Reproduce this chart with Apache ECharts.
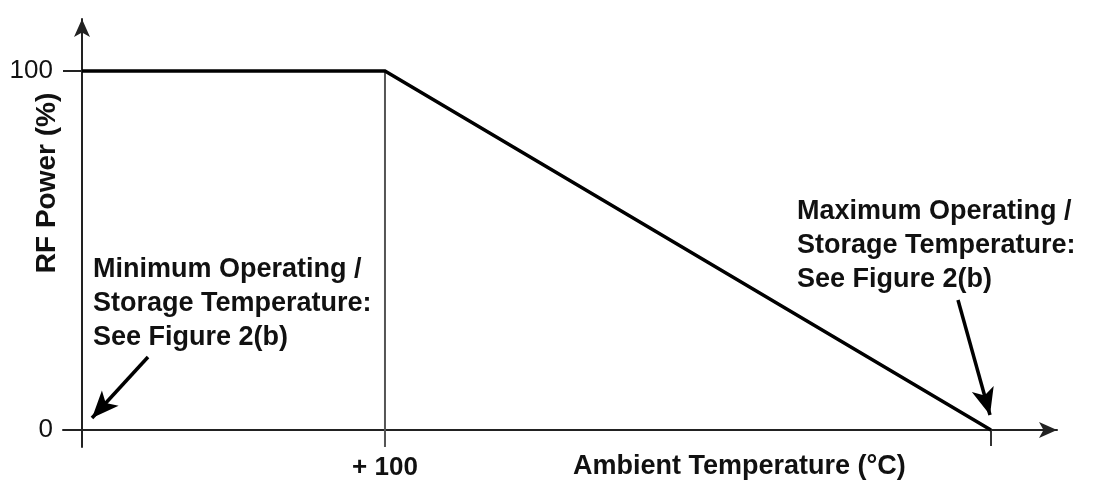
<!DOCTYPE html>
<html>
<head>
<meta charset="utf-8">
<script src="https://cdn.jsdelivr.net/npm/echarts@6/dist/echarts.min.js"></script>
<style>html,body{margin:0;padding:0;background:#fff}#c{width:1101px;height:486px}</style>
</head>
<body>
<div id="c"></div>
<script>
// Data (schematic derating curve)
const temperature = [0, 100, 300];
const rfPower = [100, 100, 0];
const refLineX = [100, 100];
const refLineY = [100, -4.74];
const xTickValues = [100, 300];
const xLabelValues = [100];
const yTickValues = [100];
const yLabelValues = [0, 100];
const xLabelText = {100: '+ 100'};
const xAxisTitle = 'Ambient Temperature (°C)';
const yAxisTitle = 'RF Power (%)';
const minNote = ['Minimum Operating /', 'Storage Temperature:', 'See Figure 2(b)'];
const maxNote = ['Maximum Operating /', 'Storage Temperature:', 'See Figure 2(b)'];

const FONT = "'Liberation Sans', Arial, sans-serif";
const chart = echarts.init(document.getElementById('c'), null, {renderer: 'canvas'});
const curve = temperature.map((t, i) => [t, rfPower[i]]);
const ref = refLineX.map((x, i) => [x, refLineY[i]]);

chart.setOption({
  animation: false,
  backgroundColor: '#fff',
  grid: {left: 63, right: 44, top: 19, bottom: 39, containLabel: false, outerBoundsMode: 'none'},
  xAxis: {
    type: 'value', min: -6.27, max: 321.8,
    splitLine: {show: false},
    axisLine: {onZero: true, symbol: ['none', 'arrow'], symbolSize: [12, 18],
      lineStyle: {color: '#222', width: 2}},
    axisTick: {show: true, customValues: xTickValues, length: 16, lineStyle: {color: '#333', width: 2}},
    axisLabel: {customValues: xLabelValues, margin: 8, fontFamily: FONT, fontSize: 26,
      fontWeight: 'bold', color: '#111', formatter: v => xLabelText[v] || String(v)}
  },
  yAxis: {
    type: 'value', min: -4.74, max: 114.5,
    splitLine: {show: false},
    axisLine: {onZero: true, symbol: ['none', 'arrow'], symbolSize: [12, 18],
      lineStyle: {color: '#222', width: 2}},
    axisTick: {show: true, customValues: yTickValues, length: 19, lineStyle: {color: '#222', width: 2}},
    axisLabel: {customValues: yLabelValues, margin: 10, fontFamily: FONT, fontSize: 26,
      color: '#111'}
  },
  series: [
    {type: 'line', data: ref, symbol: 'none', silent: true,
      lineStyle: {color: '#555', width: 2}, z: 1},
    {type: 'line', data: curve, symbol: 'none', silent: true,
      lineStyle: {color: '#000', width: 3.5, join: 'miter'}, z: 3,
      markLine: {
        silent: true, symbol: ['none', 'arrow'], symbolSize: [17, 27],
        label: {show: false},
        lineStyle: {color: '#000', width: 3.5, type: 'solid'},
        data: [
          [{x: 148, y: 357}, {x: 92, y: 418}],
          [{x: 958, y: 300}, {x: 990, y: 415}]
        ]
      }}
  ],
  graphic: [
    {type: 'text', x: 47, y: 183, rotation: Math.PI / 2,
      style: {text: yAxisTitle, font: "bold 28px " + FONT, fill: '#111',
        align: 'center', verticalAlign: 'middle'}},
    {type: 'text', x: 573, y: 467,
      style: {text: xAxisTitle, font: "bold 27px " + FONT, fill: '#111',
        align: 'left', verticalAlign: 'middle'}},
    {type: 'text', x: 93, y: 253,
      style: {text: minNote.join('\n'), font: "bold 27px " + FONT, lineHeight: 34, fill: '#111',
        align: 'left', verticalAlign: 'top'}},
    {type: 'text', x: 797, y: 195,
      style: {text: maxNote.join('\n'), font: "bold 27px " + FONT, lineHeight: 34, fill: '#111',
        align: 'left', verticalAlign: 'top'}}
  ]
});
</script>
</body>
</html>
